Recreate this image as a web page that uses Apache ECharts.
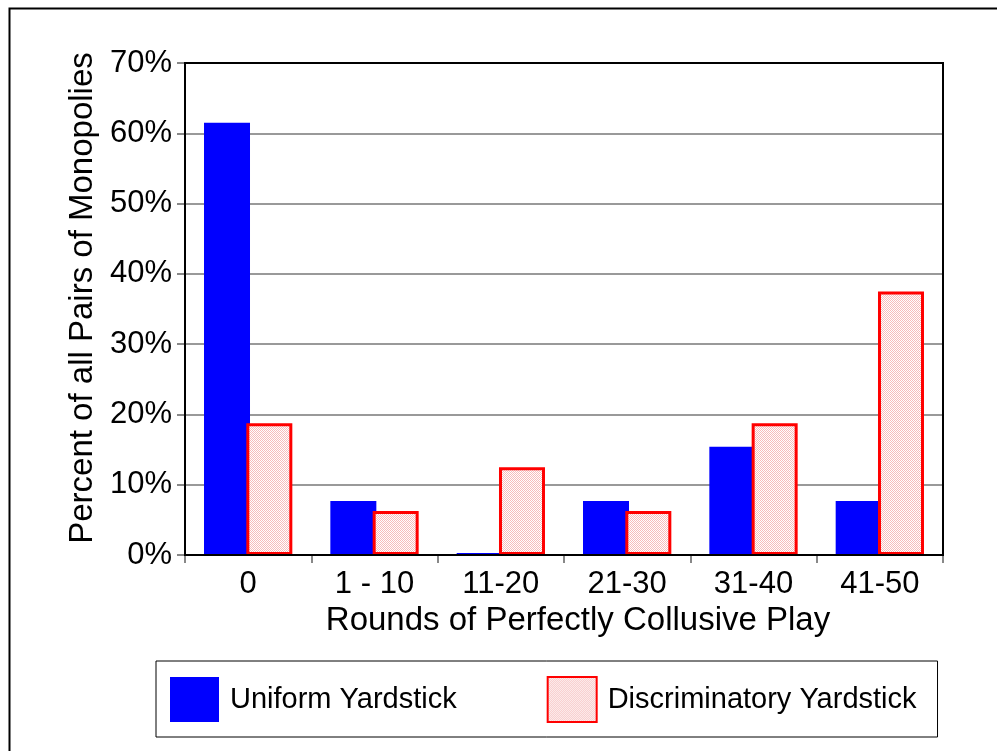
<!DOCTYPE html>
<html>
<head>
<meta charset="utf-8">
<script src="https://cdn.jsdelivr.net/npm/echarts@6/dist/echarts.min.js"></script>
<style>
html,body{margin:0;padding:0;background:#fff;}
#chart{width:997px;height:751px;}
</style>
</head>
<body>
<div id="chart"></div>
<script>
const categories = ['0', '1 - 10', '11-20', '21-30', '31-40', '41-50'];
const uniformYardstick = [61.5, 7.7, 0.3, 7.7, 15.4, 7.7];
const discriminatoryYardstick = [18.75, 6.25, 12.5, 6.25, 18.75, 37.5];
const seriesNames = ['Uniform Yardstick', 'Discriminatory Yardstick'];
const yTicks = { min: 0, max: 70, interval: 10 };

const pc = document.createElement('canvas');
pc.width = 2; pc.height = 2;
const pctx = pc.getContext('2d');
pctx.fillStyle = '#ffffff'; pctx.fillRect(0, 0, 2, 2);
pctx.fillStyle = '#f7bcbc';
pctx.fillRect(0, 0, 1, 1);
pctx.fillRect(1, 1, 1, 1);

const FONT = '"Liberation Sans", Arial, sans-serif';
const chart = echarts.init(document.getElementById('chart'));
chart.setOption({
  animation: false,
  backgroundColor: '#fff',
  textStyle: { fontFamily: FONT, color: '#000' },
  graphic: [{
    type: 'rect', left: 7, top: 6, z: 100,
    shape: { width: 1010, height: 770 },
    style: { fill: 'none', stroke: '#000', lineWidth: 2 }
  }],
  grid: { left: 185, right: 54, top: 63, bottom: 196, show: true, borderColor: '#000', borderWidth: 2, z: 3 },
  legend: {
    left: 156, top: 661,
    padding: [15, 21, 14, 14],
    itemWidth: 49, itemHeight: 45, itemGap: 90,
    borderColor: '#000', borderWidth: 1,
    icon: 'rect',
    textStyle: { fontFamily: FONT, fontSize: 29, color: '#000', padding: [0, 0, 0, 6] },
    data: seriesNames
  },
  xAxis: {
    type: 'category',
    data: categories,
    name: 'Rounds of Perfectly Collusive Play',
    nameLocation: 'middle',
    nameGap: 47,
    nameTextStyle: { fontFamily: FONT, fontSize: 33, color: '#000', padding: [0, 0, 0, 28] },
    axisLine: { lineStyle: { color: '#000', width: 2 } },
    axisTick: { show: true, length: 8, lineStyle: { color: '#888', width: 2 } },
    axisLabel: { fontFamily: FONT, fontSize: 31, color: '#000', margin: 14 }
  },
  yAxis: {
    type: 'value',
    min: yTicks.min, max: yTicks.max, interval: yTicks.interval,
    name: 'Percent of all Pairs of Monopolies',
    nameLocation: 'middle',
    nameGap: 80,
    nameTextStyle: { fontFamily: FONT, fontSize: 33, color: '#000', padding: [0, 0, 0, 22] },
    axisLine: { show: true, lineStyle: { color: '#000', width: 2 } },
    axisTick: { show: true, length: 8, lineStyle: { color: '#888', width: 2 } },
    axisLabel: { fontFamily: FONT, fontSize: 31, color: '#000', margin: 13, formatter: '{value}%' },
    splitLine: { show: true, lineStyle: { color: '#999', width: 2 } }
  },
  series: [
    {
      name: seriesNames[0], type: 'bar', data: uniformYardstick,
      barWidth: 46, barGap: '-8%',
      itemStyle: { color: '#0000ff' }
    },
    {
      name: seriesNames[1], type: 'bar', data: discriminatoryYardstick,
      barWidth: 46,
      itemStyle: { color: { image: pc, repeat: 'repeat' }, borderColor: '#ff0000', borderWidth: 3 }
    }
  ]
});
</script>
</body>
</html>
